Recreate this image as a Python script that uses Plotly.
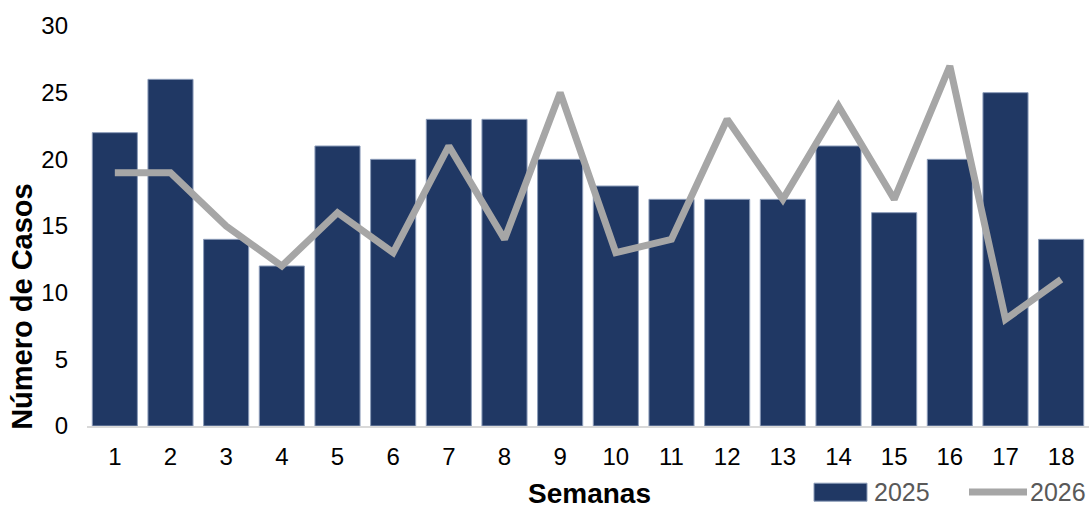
import plotly.graph_objects as go

semanas = [str(i) for i in range(1, 19)]
casos_2025 = [22, 26, 14, 12, 21, 20, 23, 23, 20, 18, 17, 17, 17, 21, 16, 20, 25, 14]
casos_2026 = [19, 19, 15, 12, 16, 13, 21, 14, 25, 13, 14, 23, 17, 24, 17, 27, 8, 11]
y_ticks = [0, 5, 10, 15, 20, 25, 30]

fig = go.Figure()

fig.add_trace(go.Bar(
    x=semanas,
    y=casos_2025,
    name="2025",
    marker=dict(color="#203864", line=dict(color="#8a9bb8", width=1)),
))

fig.add_trace(go.Scatter(
    x=semanas,
    y=casos_2026,
    name="2026",
    mode="lines",
    line=dict(color="#a6a6a6", width=7),
))

# leyenda hecha a mano
fig.add_shape(type="rect", xref="paper", yref="paper",
              x0=(814 - 87) / 1002, x1=(867 - 87) / 1002, y0=-0.188, y1=-0.143,
              fillcolor="#203864", line=dict(color="#8a9bb8", width=1))
fig.add_shape(type="line", xref="paper", yref="paper",
              x0=(969 - 87) / 1002, x1=(1027 - 87) / 1002, y0=-0.165, y1=-0.165,
              line=dict(color="#a6a6a6", width=7))
fig.add_annotation(text="2025", xref="paper", yref="paper", x=(872 - 87) / 1002, y=-0.165,
                   xanchor="left", yanchor="middle", showarrow=False,
                   font=dict(size=25, color="#595959"))
fig.add_annotation(text="2026", xref="paper", yref="paper", x=(1028 - 87) / 1002, y=-0.165,
                   xanchor="left", yanchor="middle", showarrow=False,
                   font=dict(size=25, color="#595959"))

# titulos de ejes
fig.add_annotation(text="<b>Semanas</b>", xref="paper", yref="paper", x=(589 - 87) / 1002, y=-0.168,
                   xanchor="center", yanchor="middle", showarrow=False,
                   font=dict(size=28, color="black"))
fig.add_annotation(text="<b>Número de Casos</b>", xref="paper", yref="paper", x=-0.065, y=0.3,
                   xanchor="center", yanchor="middle", textangle=-90, showarrow=False,
                   font=dict(size=29, color="black"))

fig.update_layout(
    width=1089,
    height=506,
    margin=dict(l=87, r=0, t=26, b=80),
    plot_bgcolor="white",
    paper_bgcolor="white",
    font=dict(family="Liberation Sans, Arial, sans-serif", size=24, color="black"),
    showlegend=False,
    bargap=0.19,
    xaxis=dict(
        type="category",
        showgrid=False,
        showline=True,
        linecolor="#d9d9d9",
        linewidth=2,
        ticks="",
        ticklabelstandoff=8,
    ),
    yaxis=dict(
        range=[0, 30],
        tickvals=y_ticks,
        showgrid=False,
        zeroline=False,
        showline=False,
        ticks="",
        ticklabelstandoff=18,
    ),
)

fig.write_html("out.html", config={"displayModeBar": False},
               post_script="document.body.style.margin='0px';")
